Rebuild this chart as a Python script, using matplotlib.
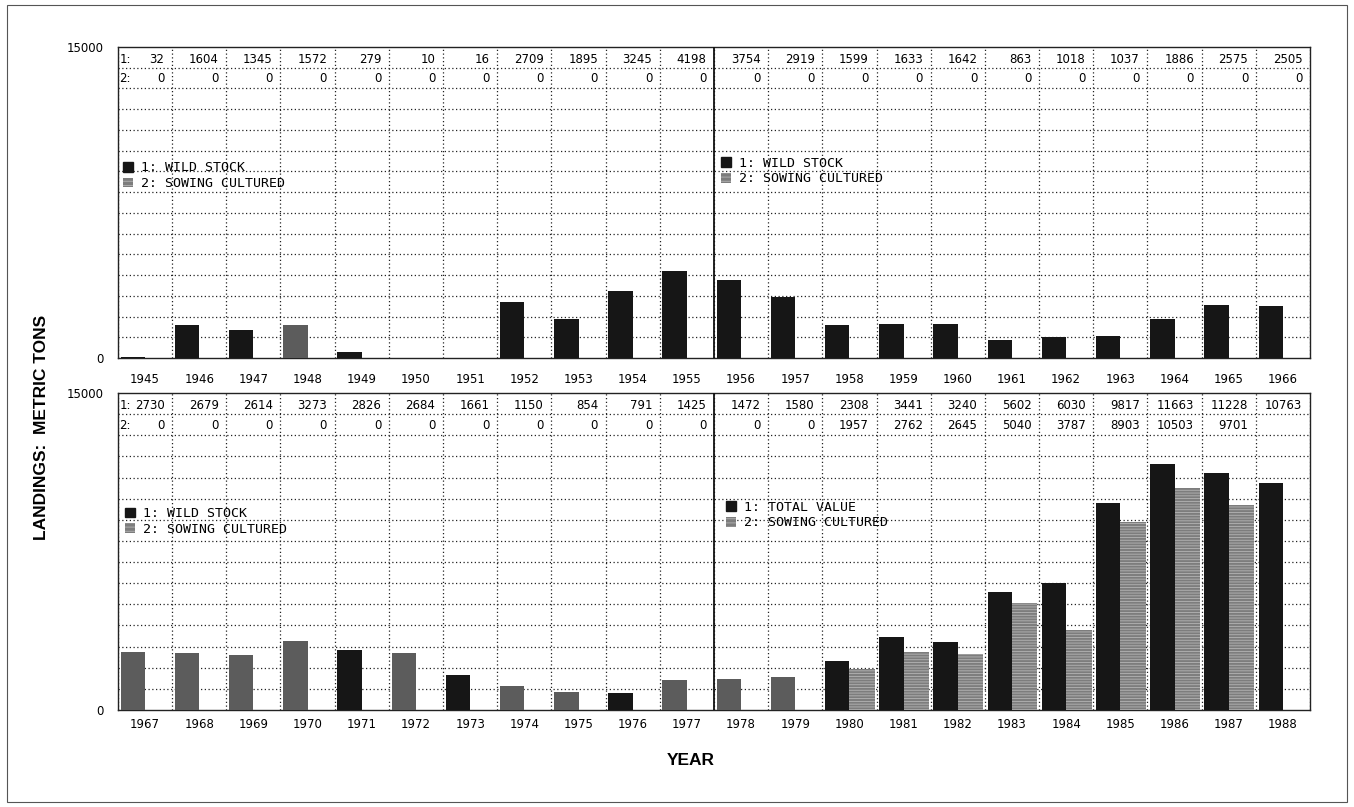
import matplotlib
matplotlib.use('Agg')
import matplotlib.pyplot as plt
import numpy as np
from matplotlib.patches import Patch, Rectangle
from matplotlib.legend import Legend

# Landings data
years_top = list(range(1945, 1967))
wild_top = [32, 1604, 1345, 1572, 279, 10, 16, 2709, 1895, 3245, 4198,
            3754, 2919, 1599, 1633, 1642, 863, 1018, 1037, 1886, 2575, 2505]
cult_top = [0] * 22

years_bot = list(range(1967, 1989))
wild_bot = [2730, 2679, 2614, 3273, 2826, 2684, 1661, 1150, 854, 791, 1425,
            1472, 1580, 2308, 3441, 3240, 5602, 6030, 9817, 11663, 11228, 10763]
cult_bot = [0, 0, 0, 0, 0, 0, 0, 0, 0, 0, 0,
            0, 0, 1957, 2762, 2645, 5040, 3787, 8903, 10503, 9701, None]

# bars that came out grey on the original print
grey_years = [1948, 1967, 1968, 1969, 1970, 1972, 1974, 1975, 1977, 1978, 1979]

legend_top = [('1: WILD STOCK', '2: SOWING CULTURED'), ('1: WILD STOCK', '2: SOWING CULTURED')]
legend_bot = [('1: WILD STOCK', '2: SOWING CULTURED'), ('1: TOTAL VALUE', '2: SOWING CULTURED')]

BLACK = '#161616'
GREY = '#5c5c5c'
HATCH_FACE = '#7d7d7d'
NUM_FONT = ['Liberation Sans Narrow', 'DejaVu Sans']

plt.rcParams['hatch.linewidth'] = 0.6

fig = plt.figure(figsize=(13.54, 8.07), dpi=100)
ax_top = fig.add_axes([0.0871, 0.5564, 0.8804, 0.3854])
ax_bot = fig.add_axes([0.0871, 0.1202, 0.8804, 0.3928])


def draw_panel(ax, years, wild, cult, legends, anchors, tick_pad):
    years = np.array(years)
    first, last = years[0], years[-1]
    ax.set_xlim(first - 0.5, last + 0.5)
    ax.set_ylim(0, 15000)

    colors = [GREY if y in grey_years else BLACK for y in years]
    ax.bar(years - 0.45, wild, width=0.45, align='edge', color=colors,
           linewidth=0, zorder=3)
    cy = [y for y, c in zip(years, cult) if c]
    cv = [c for c in cult if c]
    ax.bar(np.array(cy, dtype=float), cv, width=0.47, align='edge',
           color=HATCH_FACE, edgecolor='#b5b5b5', hatch='------',
           linewidth=0, zorder=3)

    # grid
    ax.set_yticks([0, 15000])
    ax.set_yticklabels(['0', '15000'], fontsize=8.5)
    ax.set_yticks(range(0, 15001, 1000), minor=True)
    ax.set_xticks(years)
    ax.set_xticklabels([str(y) for y in years], fontsize=8.5)
    ax.set_xticks(np.arange(first - 0.5, last + 0.6, 1.0), minor=True)
    ax.grid(which='minor', color='#222222', linestyle=(0, (1, 2)),
            linewidth=0.9, zorder=1)
    ax.tick_params(which='both', length=0)
    ax.tick_params(axis='x', pad=tick_pad)
    ax.tick_params(axis='y', pad=10)
    mid = first + 10.5
    ax.axvline(mid, color='#111111', linewidth=1.3, zorder=4)
    for s in ax.spines.values():
        s.set_linewidth(1.0)
        s.set_color('#222222')

    # value table in the top two grid rows
    ax.text(first - 0.47, 14080, '1:', fontsize=8.5, family=NUM_FONT,
            ha='left', va='bottom', zorder=5)
    ax.text(first - 0.47, 13150, '2:', fontsize=8.5, family=NUM_FONT,
            ha='left', va='bottom', zorder=5)
    for y, w, c in zip(years, wild, cult):
        ax.text(y + 0.36, 14080, str(w), fontsize=8.5, family=NUM_FONT,
                ha='right', va='bottom', zorder=5)
        if c is not None:
            ax.text(y + 0.36, 13150, str(c), fontsize=8.5, family=NUM_FONT,
                    ha='right', va='bottom', zorder=5)

    # legends for each half of the panel
    for (l1, l2), anc in zip(legends, anchors):
        handles = [Patch(facecolor=BLACK, edgecolor=BLACK),
                   Patch(facecolor=HATCH_FACE, edgecolor='#b5b5b5',
                         hatch='----', linewidth=0)]
        leg = Legend(ax, handles, [l1, l2], loc='upper left',
                     bbox_to_anchor=anc, frameon=False,
                     handlelength=0.75, handleheight=0.75,
                     handletextpad=0.6, labelspacing=0.2,
                     borderpad=0, borderaxespad=0,
                     prop={'family': 'DejaVu Sans Mono', 'size': 9.5})
        leg.set_zorder(6)
        ax.add_artist(leg)


draw_panel(ax_top, years_top, wild_top, cult_top, legend_top,
           [(0.004, 0.632), (0.506, 0.647)], 11)
draw_panel(ax_bot, years_bot, wild_bot, cult_bot, legend_bot,
           [(0.006, 0.64), (0.510, 0.66)], 6)

fig.text(0.031, 0.47, 'LANDINGS:  METRIC TONS', rotation=90, ha='center',
         va='center', fontsize=12.5, fontweight='bold', family='Liberation Sans')
fig.text(0.51, 0.058, 'YEAR', ha='center', va='center', fontsize=12.5,
         fontweight='bold', family='Liberation Sans')

fig.add_artist(Rectangle((0.005, 0.006), 0.99, 0.988, transform=fig.transFigure,
                         fill=False, linewidth=0.8, edgecolor='#555555'))

fig.savefig('out.png', dpi=100)
